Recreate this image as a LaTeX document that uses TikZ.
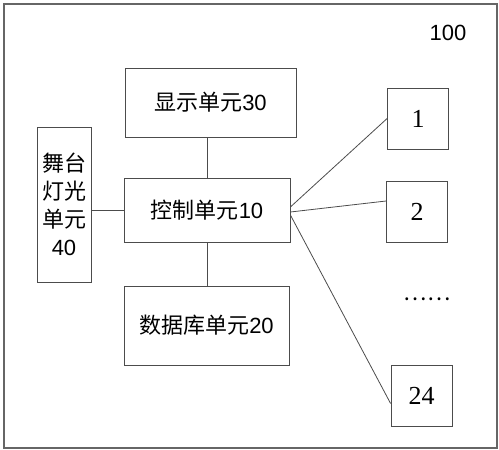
\documentclass[tikz,border=0pt]{standalone}
\usepackage{fontspec}
\setmainfont{Liberation Sans}
\newfontfamily\cjk{Noto Sans CJK SC}
\newfontfamily\numserif{Liberation Serif}
\usetikzlibrary{positioning}

\begin{document}
\begin{tikzpicture}[
    x=1pt, y=-1pt,
    unit/.style={draw=black!70, line width=0.8pt, align=center, inner sep=0pt,
      font=\fontsize{22}{28}\selectfont},
    term/.style={unit, minimum width=61pt, minimum height=61pt,
      font=\numserif\fontsize{26}{30}\selectfont},
    ln/.style={-, draw=black!70, line width=0.8pt}
  ]
    \useasboundingbox (0,0) rectangle (499,450);
    \draw[black!60, line width=1.2pt] (4,4) rectangle (497,448);
    \node[font=\fontsize{22}{26}\selectfont] (lbl) at (448,33) {100};
    \node[unit, minimum width=171pt, minimum height=69pt] (disp) at (210.5,102.5) {{\cjk 显示单元}30};
    \node[unit, minimum width=166pt, minimum height=64pt] (ctrl) at (207,210) {{\cjk 控制单元}10};
    \node[unit, minimum width=165pt, minimum height=79pt] (db) at (206.5,325.5) {{\cjk 数据库单元}20};
    \node[unit, minimum width=54pt, minimum height=155pt] (stage) at (64,204.5)
      {{\cjk 舞台}\\{\cjk 灯光}\\{\cjk 单元}\\40};
    \draw[ln] (ctrl.north) -- (ctrl.north |- disp.south);
    \draw[ln] (ctrl.south) -- (ctrl.south |- db.north);
    \draw[ln] (stage.east |- ctrl.west) -- (ctrl.west);
    \node[term] (n1) at (418,118.5) {1};
    \node[term] (n2) at (417,212) {2};
    \node[font=\cjk\fontsize{22}{22}\selectfont] (more) at (427,299) {……};
    \node[term] (n24) at (421.5,395.5) {24};
    \draw[ln] ([yshift=3pt]ctrl.east) -- (n1.west);
    \draw[ln] ([yshift=-2pt]ctrl.east) -- ([yshift=11pt]n2.west);
    \draw[ln] ([yshift=-5pt]ctrl.east) -- ([yshift=-8pt]n24.west);
  \end{tikzpicture}
\end{document}
